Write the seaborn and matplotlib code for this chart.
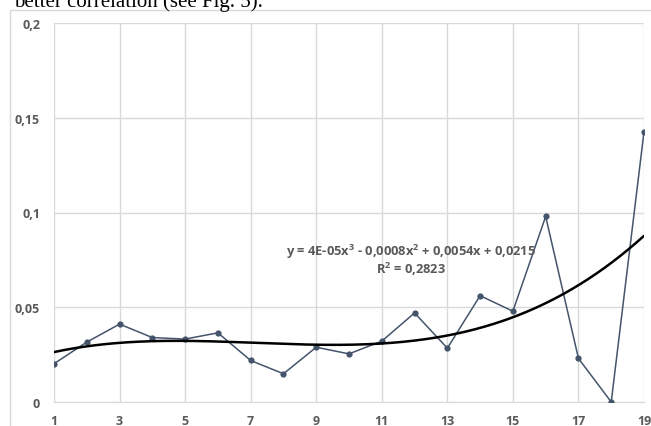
import numpy as np
import pandas as pd
import matplotlib
matplotlib.use('Agg')
import matplotlib.pyplot as plt
from matplotlib.patches import Rectangle
import seaborn as sns

# values
x_vals = list(range(1, 20))
y_vals = [0.0202, 0.0316, 0.0411, 0.0340, 0.0332, 0.0365, 0.0219, 0.0149,
          0.0289, 0.0254, 0.0321, 0.0470, 0.0284, 0.0561, 0.0479, 0.0979,
          0.0230, 0.0000, 0.1426]
x_ticks = [1, 3, 5, 7, 9, 11, 13, 15, 17, 19]
y_ticks = [0, 0.05, 0.1, 0.15, 0.2]
y_tick_labels = ['0', '0,05', '0,1', '0,15', '0,2']
eq_text = 'y = 4E-05x$^3$ - 0,0008x$^2$ + 0,0054x + 0,0215'
r2_text = 'R$^2$ = 0,2823'
caption = 'better correlation (see Fig. 5).'

df = pd.DataFrame({'x': x_vals, 'y': y_vals})

sns.set_style('white')
plt.rcParams['font.family'] = ['Open Sans', 'DejaVu Sans']
plt.rcParams['mathtext.fontset'] = 'custom'
plt.rcParams['mathtext.rm'] = 'Open Sans:bold'

fig = plt.figure(figsize=(6.51, 4.27), dpi=100)
ax = fig.add_axes([54 / 651, 24 / 427, (644 - 54) / 651, (403 - 24) / 427])

# outer chart border
fig.patches.append(Rectangle((10 / 651, -0.1), 1.0, (416 - -42.7) / 427,
                             transform=fig.transFigure, fill=False,
                             edgecolor='#d9d9d9', lw=1.0))

sns.lineplot(data=df, x='x', y='y', ax=ax, color='#44546a', lw=1.1,
             marker='o', markersize=4.5, markeredgewidth=0, zorder=3)

# cubic trendline
coef = np.polyfit(df['x'], df['y'], 3)
xs = np.linspace(1, 19, 300)
ax.plot(xs, np.polyval(coef, xs), color='black', lw=1.8, zorder=4)

ax.set_xlim(1, 19)
ax.set_ylim(0, 0.2)
ax.set_xticks(x_ticks)
ax.set_yticks(y_ticks)
ax.set_yticklabels(y_tick_labels)
ax.set_xlabel('')
ax.set_ylabel('')
ax.grid(True, color='#d9d9d9', lw=1.0)
ax.set_axisbelow(True)
for s in ['top', 'right', 'left']:
    ax.spines[s].set_visible(False)
ax.spines['bottom'].set_color('#d9d9d9')
ax.tick_params(axis='both', length=0, labelsize=9, labelcolor='#595959')
ax.tick_params(axis='x', pad=9)
ax.tick_params(axis='y', pad=10)
for lab in ax.get_xticklabels() + ax.get_yticklabels():
    lab.set_fontweight('bold')

ax.text(11.9, 0.0795, eq_text, ha='center', va='center', fontsize=9.3,
        fontweight='bold', color='#595959')
ax.text(11.9, 0.0705, r2_text, ha='center', va='center', fontsize=9.3,
        fontweight='bold', color='#595959')

fig.text(14 / 651, 1 - 7 / 427, caption, family='Liberation Serif',
         fontsize=15, color='black', va='baseline', ha='left')

fig.savefig('out.png', dpi=100)
